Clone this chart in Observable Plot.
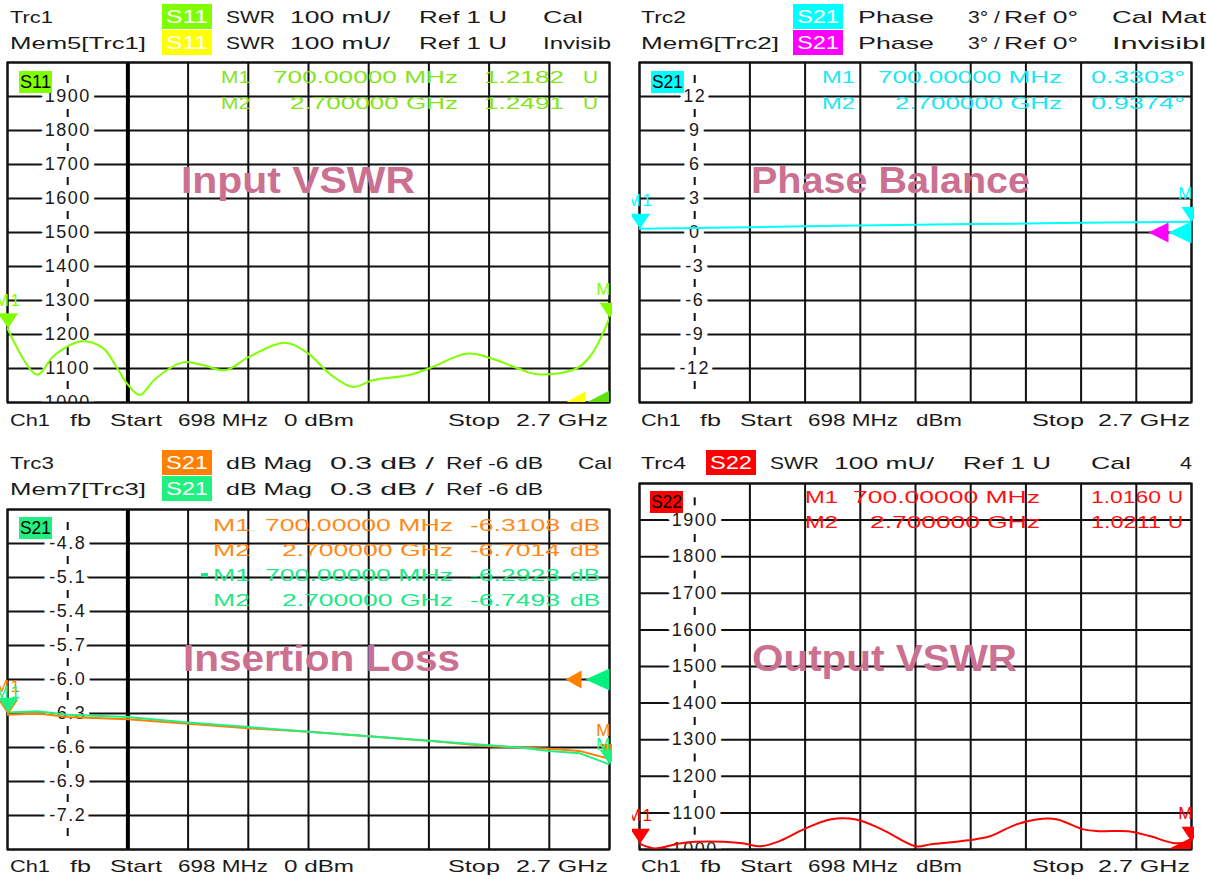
<!DOCTYPE html>
<html><head><meta charset="utf-8">
<script src="https://cdn.jsdelivr.net/npm/d3@7"></script>
<script src="https://cdn.jsdelivr.net/npm/@observablehq/plot@0.6"></script>
<style>
html,body{margin:0;padding:0;background:#fff;}
#root{position:relative;width:1206px;height:879px;overflow:hidden;background:#fff;font-family:"Liberation Sans",Arial,sans-serif;}
.panel{position:absolute;overflow:hidden;}
</style></head><body><div id="root"></div>
<script>
// ---------- data ----------
const xGrid = [698, 898.2, 1098.4, 1298.6, 1498.8, 1699, 1899.2, 2099.4, 2299.6, 2499.8, 2700];
const markerFreq = [700, 2700];
const markerNames = ["M1", "M2"];
const markerFreqText = ["700.00000 MHz", "2.700000 GHz"];

// Input VSWR (S11)
const freqIn = [698, 796, 854, 944, 1016, 1060, 1098, 1138, 1190, 1281, 1347, 1423, 1501, 1619, 1695, 1773, 1845, 1915, 2033, 2099, 2228, 2306, 2396, 2460, 2590, 2642, 2700];
const vswrIn = [1.218, 1.082, 1.139, 1.18, 1.16, 1.105, 1.053, 1.022, 1.07, 1.118, 1.11, 1.095, 1.134, 1.176, 1.146, 1.082, 1.046, 1.066, 1.081, 1.1, 1.144, 1.13, 1.1, 1.083, 1.1, 1.144, 1.249];
const mkIn = [1.2182, 1.2491];
const swrTicks = [1.0, 1.1, 1.2, 1.3, 1.4, 1.5, 1.6, 1.7, 1.8, 1.9];
const swrLabels = ["1000", "1100", "1200", "1300", "1400", "1500", "1600", "1700", "1800", "1900"];
const swrGrid = [1.0, 1.1, 1.2, 1.3, 1.4, 1.5, 1.6, 1.7, 1.8, 1.9, 2.0];

// Phase balance (S21)
const freqPhase = [698, 898, 1098, 1299, 1499, 1699, 1899, 2099, 2300, 2500, 2700];
const phase = [0.33, 0.40, 0.47, 0.55, 0.62, 0.68, 0.74, 0.79, 0.85, 0.90, 0.94];
const mkPh = [0.3303, 0.9374];
const phTicks = [12, 9, 6, 3, 0, -3, -6, -9, -12];
const phLabels = ["12", "9", "6", "3", "0", "-3", "-6", "-9", "-12"];
const phGrid = [15, 12, 9, 6, 3, 0, -3, -6, -9, -12, -15];

// Insertion loss (S21 trace and memory)
const freqIL = [698, 798, 898, 1098, 1298, 1499, 1699, 1899, 2099, 2300, 2400, 2500, 2600, 2700];
const ilTrc = [-6.311, -6.30, -6.33, -6.35, -6.39, -6.43, -6.46, -6.50, -6.54, -6.59, -6.60, -6.61, -6.63, -6.70];
const ilMem = [-6.292, -6.28, -6.31, -6.33, -6.38, -6.42, -6.46, -6.50, -6.54, -6.58, -6.60, -6.63, -6.65, -6.749];
const mkIlTrc = [-6.3108, -6.7014];
const mkIlMem = [-6.2923, -6.7493];
const ilTicks = [-4.8, -5.1, -5.4, -5.7, -6.0, -6.3, -6.6, -6.9, -7.2];
const ilLabels = ["-4.8", "-5.1", "-5.4", "-5.7", "-6.0", "-6.3", "-6.6", "-6.9", "-7.2"];
const ilGrid = [-4.5, -4.8, -5.1, -5.4, -5.7, -6.0, -6.3, -6.6, -6.9, -7.2, -7.5];

// Output VSWR (S22)
const freqOut = [698, 752, 834, 900, 1062, 1138, 1199, 1293, 1389, 1483, 1577, 1699, 1753, 1889, 1969, 2063, 2159, 2214, 2308, 2362, 2470, 2552, 2632, 2700];
const vswrOut = [1.016, 1.003, 1.015, 1.021, 1.018, 1.009, 1.021, 1.055, 1.082, 1.082, 1.055, 1.009, 1.014, 1.025, 1.036, 1.068, 1.084, 1.082, 1.055, 1.05, 1.05, 1.036, 1.018, 1.021];
const mkOut = [1.0160, 1.0211];

// ---------- helpers ----------
const root = document.getElementById("root");
const triDown = {draw(ctx) { ctx.moveTo(0, 0); ctx.lineTo(-10, -15); ctx.lineTo(10, -15); ctx.closePath(); }};
const triLeft = (w, h) => ({draw(ctx) { ctx.moveTo(0, -h / 2); ctx.lineTo(-w, 0); ctx.lineTo(0, h / 2); ctx.closePath(); }});

function markerMarks(values, color, dy = -28) {
  return [
    Plot.dot(markerFreq, {x: d => d, y: (d, i) => values[i], symbol: triDown, fill: color, stroke: "none", r: 8}),
    Plot.text(markerFreq, {x: d => d, y: (d, i) => values[i], text: (d, i) => markerNames[i], dy, fill: color, fontSize: 17})
  ];
}

function panel({left, top, frame, yDomain, yGrid, yTicks, yLabels, thick, marks}) {
  const period = (frame.y1 - frame.y0) / 10;
  const width = frame.x1 + 3 - left, height = frame.y1 + 3 - top;
  const svg = Plot.plot({
    width, height,
    marginLeft: frame.x0 - left, marginRight: 3, marginTop: frame.y0 - top, marginBottom: 3,
    x: {domain: [698, 2700], axis: null},
    y: {domain: yDomain, axis: null},
    style: {background: "transparent", fontFamily: "'Liberation Sans', Arial, sans-serif", letterSpacing: "1.5px"},
    marks: [
      Plot.ruleY(yGrid, {stroke: "#111", strokeWidth: 2}),
      Plot.ruleX(xGrid.filter((d, i) => i !== 1), {stroke: "#111", strokeWidth: 2}),
      thick ? Plot.ruleX([xGrid[2]], {stroke: "#000", strokeWidth: 4}) : null,
      Plot.ruleX([xGrid[1]], {stroke: "#111", strokeWidth: 2, strokeDasharray: `8 ${period - 8}`, strokeDashoffset: period / 2 + 4}),
      Plot.text(yTicks, {x: xGrid[1], y: d => d, text: (d, i) => yLabels[i], fill: "#1a1a1a", stroke: "white", strokeWidth: 11, paintOrder: "stroke", strokeLinejoin: "round", fontSize: 18, clip: true}),
      Plot.frame({stroke: "#111", strokeWidth: 2}),
      ...marks
    ]
  });
  const div = document.createElement("div");
  div.className = "panel";
  Object.assign(div.style, {left: left + "px", top: top + "px", width: width + "px", height: height + "px"});
  div.appendChild(svg);
  root.appendChild(div);
}

// ---------- panels ----------
panel({
  left: 0, top: 50, frame: {x0: 7, x1: 609, y0: 62, y1: 402},
  yDomain: [1.0, 2.0], yGrid: swrGrid, yTicks: swrTicks, yLabels: swrLabels, thick: true,
  marks: [
    Plot.dot([1.0], {x: () => 2700, y: d => d, symbol: triLeft(20, 22), fill: "#ffff00", stroke: "none", dx: -24, clip: true}),
    Plot.dot([1.0], {x: () => 2700, y: d => d, symbol: triLeft(23, 24), fill: "#60e010", stroke: "none", clip: true}),
    Plot.line(freqIn, {x: d => d, y: (d, i) => vswrIn[i], stroke: "#80ff00", strokeWidth: 2, curve: "catmull-rom", clip: true}),
    ...markerMarks(mkIn, "#80ff00")
  ]
});

panel({
  left: 632, top: 50, frame: {x0: 639, x1: 1191, y0: 62, y1: 402},
  yDomain: [-15, 15], yGrid: phGrid, yTicks: phTicks, yLabels: phLabels, thick: false,
  marks: [
    Plot.dot([0], {x: () => 2700, y: d => d, symbol: triLeft(20, 20), fill: "#ff00ff", stroke: "none", dx: -23}),
    Plot.dot([0], {x: () => 2700, y: d => d, symbol: triLeft(23, 22), fill: "#00ffff", stroke: "none"}),
    Plot.line(freqPhase, {x: d => d, y: (d, i) => phase[i], stroke: "#00ffff", strokeWidth: 2, clip: true}),
    ...markerMarks(mkPh, "#00ffff")
  ]
});

panel({
  left: 0, top: 497, frame: {x0: 7, x1: 609, y0: 509, y1: 849},
  yDomain: [-7.5, -4.5], yGrid: ilGrid, yTicks: ilTicks, yLabels: ilLabels, thick: true,
  marks: [
    Plot.dot([-6.0], {x: () => 2700, y: d => d, symbol: triLeft(16, 18), fill: "#ff8000", stroke: "none", dx: -28}),
    Plot.dot([-6.0], {x: () => 2700, y: d => d, symbol: triLeft(24, 22), fill: "#00f080", stroke: "none"}),
    Plot.line(freqIL, {x: d => d, y: (d, i) => ilTrc[i], stroke: "#ff8000", strokeWidth: 2, clip: true}),
    Plot.line(freqIL, {x: d => d, y: (d, i) => ilMem[i], stroke: "#20f080", strokeWidth: 2, clip: true}),
    ...markerMarks(mkIlTrc, "#ff8000", -28),
    ...markerMarks(mkIlMem, "#20f080", -20)
  ]
});

panel({
  left: 632, top: 472, frame: {x0: 639, x1: 1191, y0: 483, y1: 849},
  yDomain: [1.0, 2.0], yGrid: swrGrid, yTicks: swrTicks, yLabels: swrLabels, thick: false,
  marks: [
    Plot.line(freqOut, {x: d => d, y: (d, i) => vswrOut[i], stroke: "#ff0000", strokeWidth: 2, curve: "catmull-rom", clip: true}),
    Plot.dot([1.0], {x: () => 2700, y: d => d, symbol: triLeft(24, 24), fill: "#ff0000", stroke: "none", clip: true}),
    ...markerMarks(mkOut, "#ff0000")
  ]
});

// ---------- text overlay ----------
const ov = d3.select(root).append("svg")
  .attr("width", 1206).attr("height", 879)
  .style("position", "absolute").style("left", "0px").style("top", "0px")
  .style("pointer-events", "none")
  .attr("font-family", "'Liberation Sans', Arial, sans-serif");

function t(str, x, cy, w, color = "#1a1a1a", size = 17, weight = "normal") {
  ov.append("text").attr("x", x).attr("y", cy).attr("dy", "0.36em")
    .attr("font-size", size).attr("font-weight", weight).attr("fill", color)
    .attr("textLength", w).attr("lengthAdjust", "spacingAndGlyphs").text(str);
}
function box(x, y, w, h, bg, str, color, pad = 4) {
  ov.append("rect").attr("x", x).attr("y", y).attr("width", w).attr("height", h).attr("fill", bg);
  t(str, x + pad, y + h / 2, w - 2 * pad, color, 18);
}
function row(items, cy, color) { items.forEach(([s, x, w]) => t(s, x, cy, w, color)); }

const pink = "#cb7090";
const fmt4 = v => v.toFixed(4);

// Panel 1
row([["Trc1", 10, 43], ["SWR", 226, 49], ["100 mU/", 290, 100], ["Ref 1 U", 419, 88], ["Cal", 543, 40]], 17);
box(162, 4, 50, 25, "#80ff00", "S11", "#ffffff");
row([["Mem5[Trc1]", 10, 136], ["SWR", 226, 49], ["100 mU/", 290, 100], ["Ref 1 U", 419, 88], ["Invisib", 543, 68]], 43);
box(162, 30, 50, 25, "#ffff00", "S11", "#ffffff");
box(19, 71, 33, 22, "#80ff00", "S11", "#000", 1);
[0, 1].forEach(i => {
  const cy = 77 + i * 26, c = "#84e41c";
  t(markerNames[i], 221, cy, 29, c);
  t(markerFreqText[i], i ? 290 : 273, cy, i ? 168 : 185, c);
  t(fmt4(mkIn[i]), 484, cy, 80, c);
  t("U", 583, cy, 15, c);
});
t("Input VSWR", 181, 180, 234, pink, 36, "bold");
row([["Ch1", 10, 40], ["fb", 70, 21], ["Start", 110, 52], ["698 MHz", 178, 90], ["0 dBm", 284, 70], ["Stop", 448, 52], ["2.7 GHz", 516, 92]], 420);

// Panel 2
row([["Trc2", 641, 45], ["Phase", 858, 76], ["3° /", 968, 32], ["Ref 0°", 1004, 74], ["Cal Mat", 1112, 94]], 17);
box(793, 4, 50, 25, "#00ffff", "S21", "#ffffff");
row([["Mem6[Trc2]", 641, 138], ["Phase", 858, 76], ["3° /", 968, 32], ["Ref 0°", 1004, 74], ["Invisibl", 1112, 94]], 43);
box(793, 30, 50, 25, "#ff00ff", "S21", "#ffffff");
box(651, 71, 33, 22, "#00ffff", "S21", "#000", 1);
[0, 1].forEach(i => {
  const cy = 77 + i * 26, c = "#1ee6f2";
  t(markerNames[i], 822, cy, 33, c);
  t(markerFreqText[i], i ? 895 : 878, cy, i ? 167 : 184, c);
  t(fmt4(mkPh[i]) + "°", 1091, cy, 94, c);
});
t("Phase Balance", 751, 180, 279, pink, 36, "bold");
row([["Ch1", 641, 40], ["fb", 700, 21], ["Start", 740, 52], ["698 MHz", 808, 90], ["dBm", 916, 46], ["Stop", 1032, 52], ["2.7 GHz", 1098, 92]], 420);

// Panel 3
row([["Trc3", 10, 44], ["dB Mag", 226, 86], ["0.3 dB /", 330, 104], ["Ref -6 dB", 446, 97], ["Cal", 578, 34]], 463);
box(162, 450, 50, 25, "#ff8000", "S21", "#ffffff");
row([["Mem7[Trc3]", 10, 136], ["dB Mag", 226, 86], ["0.3 dB /", 330, 104], ["Ref -6 dB", 446, 97]], 489);
box(162, 476, 50, 25, "#20f080", "S21", "#ffffff");
box(19, 517, 33, 22, "#20f080", "S21", "#000", 1);
[[mkIlTrc, "#ff8a1a"], [mkIlMem, "#20e888"]].forEach(([vals, c], k) => {
  [0, 1].forEach(i => {
    const cy = 525 + (k * 2 + i) * 25;
    t(markerNames[i], 213, cy, 37, c);
    t(markerFreqText[i], i ? 282 : 265, cy, i ? 171 : 188, c);
    t(fmt4(vals[i]), 470, cy, 90, c);
    t("dB", 570, cy, 30, c);
  });
});
ov.append("rect").attr("x", 201).attr("y", 573).attr("width", 7).attr("height", 4).attr("fill", "#20e888");
t("Insertion Loss", 183, 658, 277, pink, 36, "bold");
row([["Ch1", 10, 40], ["fb", 70, 21], ["Start", 110, 52], ["698 MHz", 178, 90], ["0 dBm", 284, 70], ["Stop", 448, 52], ["2.7 GHz", 516, 92]], 866);

// Panel 4
row([["Trc4", 641, 45], ["SWR", 770, 49], ["100 mU/", 834, 100], ["Ref 1 U", 963, 88], ["Cal", 1091, 40], ["4", 1180, 12]], 463);
box(706, 450, 50, 25, "#ff0000", "S22", "#ffffff");
box(650, 491, 33, 22, "#ff0000", "S22", "#000", 1);
[0, 1].forEach(i => {
  const cy = 497 + i * 25, c = "#ff1010";
  t(markerNames[i], 805, cy, 33, c);
  t(markerFreqText[i], i ? 870 : 853, cy, i ? 170 : 187, c);
  t(fmt4(mkOut[i]), 1091, cy, 70, c);
  t("U", 1168, cy, 15, c);
});
t("Output VSWR", 752, 658, 265, pink, 36, "bold");
row([["Ch1", 641, 40], ["fb", 700, 21], ["Start", 740, 52], ["698 MHz", 808, 90], ["dBm", 916, 46], ["Stop", 1032, 52], ["2.7 GHz", 1098, 92]], 866);
</script>
</body></html>
